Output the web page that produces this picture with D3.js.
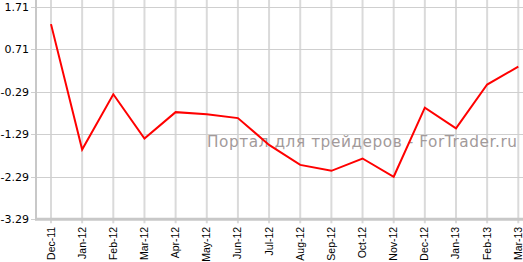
<!DOCTYPE html>
<html><head><meta charset="utf-8">
<script src="https://cdn.jsdelivr.net/npm/d3@7/dist/d3.min.js"></script>
<style>html,body{margin:0;padding:0;background:#fff;}svg{display:block;}</style>
</head><body>
<svg id="c" width="523" height="262"></svg>
<script>
const categories = ["Dec-11","Jan-12","Feb-12","Mar-12","Apr-12","May-12","Jun-12","Jul-12","Aug-12","Sep-12","Oct-12","Nov-12","Dec-12","Jan-13","Feb-13","Mar-13"];
const values = [1.30,-1.65,-0.35,-1.39,-0.77,-0.82,-0.91,-1.54,-2.01,-2.15,-1.86,-2.29,-0.665,-1.15,-0.12,0.30];
const yTicks = [1.71,0.71,-0.29,-1.29,-2.29,-3.29];
const watermark = "Портал для трейдеров - ForTrader.ru";

const svg = d3.select("#c");
const plotLeft = 36, plotRight = 523, plotTop = 6.7, plotBottom = 219.3;
const x = d3.scalePoint().domain(categories).range([51, 518.3]);
const y = d3.scaleLinear().domain([-3.29, 1.71]).range([plotBottom, plotTop]);

// vertical gridlines
svg.append("g").selectAll("line").data(categories).join("line")
  .attr("x1", d => x(d)).attr("x2", d => x(d))
  .attr("y1", 0).attr("y2", plotBottom + 4)
  .attr("stroke", "#dadada").attr("stroke-width", 2);

// horizontal gridlines
svg.append("g").selectAll("line").data(yTicks).join("line")
  .attr("x1", plotLeft - 5).attr("x2", plotRight)
  .attr("y1", d => Math.round(y(d)) + 0.5).attr("y2", d => Math.round(y(d)) + 0.5)
  .attr("stroke", "#cfcfcf").attr("stroke-width", 1.2);

// axes lines
svg.append("line").attr("x1", plotLeft).attr("x2", plotLeft).attr("y1", 0).attr("y2", plotBottom + 1)
  .attr("stroke", "#c8c8c8").attr("stroke-width", 2);
svg.append("line").attr("x1", plotLeft - 1).attr("x2", plotRight).attr("y1", plotBottom).attr("y2", plotBottom)
  .attr("stroke", "#c8c8c8").attr("stroke-width", 3);

// y labels
svg.append("g").selectAll("text").data(yTicks).join("text")
  .attr("x", 29).attr("y", d => y(d) + 4)
  .attr("text-anchor", "end")
  .attr("font-family", "DejaVu Sans").attr("font-size", 11).attr("fill", "#000")
  .text(d => d.toFixed(2));

// x labels
svg.append("g").selectAll("text").data(categories).join("text")
  .attr("transform", d => `translate(${x(d) + 3.5},${plotBottom + 7.5}) rotate(-90)`)
  .attr("text-anchor", "end")
  .attr("font-family", "Liberation Sans, Arial").attr("font-size", 10.5).attr("fill", "#000")
  .text(d => d);

// watermark
svg.append("text").attr("x", 207).attr("y", 146.7)
  .attr("font-family", "DejaVu Sans").attr("font-size", 15.3).attr("fill", "#a29a9a")
  .attr("textLength", 310).attr("lengthAdjust", "spacing")
  .text(watermark);

// line
const line = d3.line().x((d, i) => x(categories[i])).y(d => y(d));
svg.append("path").datum(values).attr("d", line)
  .attr("fill", "none").attr("stroke", "#ff0000").attr("stroke-width", 2)
  .attr("stroke-linejoin", "miter");
</script>
</body></html>
